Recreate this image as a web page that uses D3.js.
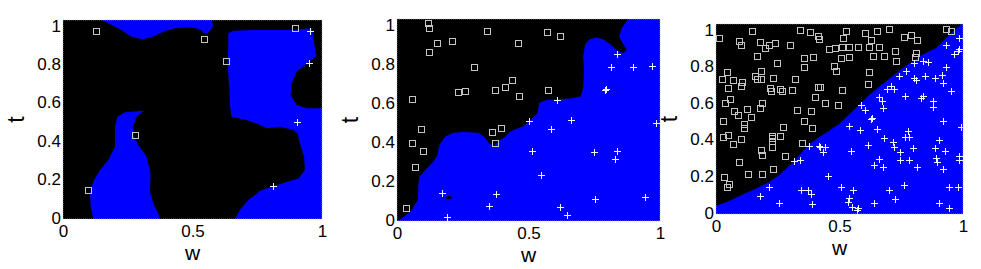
<!DOCTYPE html>
<html>
<head>
<meta charset="utf-8">
<script src="https://cdn.jsdelivr.net/npm/d3@7"></script>
<style>
  body { margin: 0; background: #fff; }
  svg { display: block; }
</style>
</head>
<body>
<script>
const svgWidth = 981
const svgHeight = 269

// tick labels
const wTicks = [0, 0.5, 1]
const tTicks = [0, 0.2, 0.4, 0.6, 0.8, 1]

// panel 1: blue regions on black, [w, t]
const p1BlueRegions = [
  [[0.149,1],[0.181,0.980],[0.220,0.953],[0.265,0.916],[0.304,0.903],[0.342,0.913],[0.387,0.941],
   [0.432,0.958],[0.490,0.963],[0.529,0.953],[0.544,0.933],[0.561,0.936],[0.580,0.970],[0.574,1]],
  [[0.638,0.933],[0.658,0.946],[0.735,0.950],[0.876,0.950],[0.960,0.958],[0.967,0.916],[0.973,0.849],
   [0.979,0.819],[0.941,0.782],[0.902,0.740],[0.883,0.682],[0.879,0.623],[0.902,0.573],[0.941,0.556],
   [1,0.556],[1,0],[0.664,0],[0.683,0.045],[0.716,0.095],[0.761,0.142],[0.825,0.171],[0.909,0.204],
   [0.934,0.246],[0.931,0.313],[0.915,0.380],[0.905,0.431],[0.889,0.447],[0.838,0.464],[0.786,0.456],
   [0.761,0.472],[0.709,0.497],[0.651,0.514],[0.645,0.564],[0.642,0.665],[0.636,0.765],[0.638,0.866]],
  [[0.117,0],[0.107,0.062],[0.104,0.129],[0.117,0.188],[0.143,0.246],[0.175,0.296],[0.201,0.363],
   [0.201,0.464],[0.210,0.514],[0.239,0.536],[0.313,0.544],[0.284,0.514],[0.272,0.472],[0.272,0.422],
   [0.291,0.372],[0.323,0.313],[0.338,0.229],[0.336,0.137],[0.351,0.070],[0.368,0.028],[0.372,0]]
]
const p1Squares = [[0.129,0.946],[0.545,0.905],[0.630,0.794],[0.897,0.962],[0.277,0.423],[0.097,0.147]]
const p1Plus = [[0.955,0.946],[0.948,0.786],[0.903,0.487],[0.810,0.164]]

// panel 2: black regions on blue
const p2BlackRegions = [
  [[0,1],[0.880,1],[0.854,0.954],[0.845,0.913],[0.858,0.880],[0.873,0.850],[0.861,0.830],[0.835,0.847],
   [0.810,0.876],[0.785,0.899],[0.759,0.909],[0.731,0.899],[0.715,0.871],[0.708,0.814],[0.711,0.748],
   [0.708,0.657],[0.698,0.616],[0.658,0.607],[0.569,0.599],[0.541,0.586],[0.534,0.533],[0.506,0.497],
   [0.478,0.467],[0.449,0.454],[0.430,0.442],[0.411,0.417],[0.385,0.393],[0.369,0.373],[0.351,0.384],
   [0.331,0.417],[0.309,0.437],[0.252,0.441],[0.214,0.437],[0.183,0.417],[0.161,0.376],[0.153,0.322],
   [0.132,0.285],[0.110,0.256],[0.085,0.219],[0.081,0.178],[0.079,0.104],[0.056,0.054],[0.024,0.018],[0,0]],
  [[0.183,0.115],[0.190,0.124],[0.205,0.122],[0.208,0.112],[0.190,0.107]]
]
const p2Squares = [[0.117,0.982],[0.123,0.954],[0.151,0.883],[0.122,0.838],[0.210,0.893],[0.343,0.941],
  [0.459,0.880],[0.569,0.937],[0.620,0.916],[0.294,0.764],[0.437,0.700],[0.409,0.663],[0.371,0.650],
  [0.259,0.645],[0.231,0.639],[0.464,0.619],[0.574,0.650],[0.056,0.602],[0.091,0.455],[0.057,0.388],
  [0.100,0.348],[0.360,0.442],[0.394,0.459],[0.373,0.384],[0.068,0.269],[0.034,0.063]]
const p2Plus = [[0.835,0.827],[0.812,0.764],[0.896,0.764],[0.968,0.769],[0.791,0.649],[0.793,0.651],
  [0.610,0.599],[0.501,0.495],[0.663,0.500],[0.584,0.455],[0.985,0.483],[0.512,0.347],[0.750,0.343],
  [0.838,0.348],[0.829,0.305],[0.546,0.228],[0.170,0.140],[0.375,0.134],[0.351,0.074],[0.620,0.071],
  [0.753,0.107],[0.943,0.120],[0.189,0.021],[0.645,0.028]]

// panel 3: straight-ish class boundary, blue below
const p3Boundary = [[0,0.044],[0.051,0.067],[0.119,0.109],[0.159,0.132],[0.213,0.167],[0.254,0.202],
  [0.308,0.267],[0.348,0.325],[0.375,0.365],[0.416,0.404],[0.456,0.435],[0.502,0.477],[0.560,0.550],
  [0.621,0.628],[0.690,0.700],[0.756,0.768],[0.837,0.839],[0.891,0.874],[0.945,0.944],[0.990,0.995],[1,1]]
const p3Squares = [[0.011,0.926],[0.146,0.961],[0.092,0.912],[0.103,0.891],[0.179,0.905],[0.197,0.874],
  [0.213,0.888],[0.238,0.902],[0.298,0.888],[0.339,0.970],[0.379,0.958],[0.413,0.935],[0.416,0.923],
  [0.456,0.868],[0.483,0.874],[0.167,0.830],[0.248,0.795],[0.355,0.821],[0.391,0.825],[0.355,0.772],
  [0.476,0.781],[0.486,0.754],[0.043,0.746],[0.024,0.711],[0.070,0.707],[0.105,0.693],[0.103,0.672],
  [0.157,0.725],[0.167,0.711],[0.184,0.711],[0.184,0.751],[0.231,0.716],[0.318,0.711],[0.049,0.663],
  [0.220,0.663],[0.224,0.649],[0.260,0.658],[0.267,0.649],[0.308,0.654],[0.413,0.667],[0.421,0.667],
  [0.399,0.616],[0.443,0.584],[0.035,0.584],[0.058,0.605],[0.186,0.584],[0.180,0.558],[0.126,0.554],
  [0.072,0.544],[0.089,0.523],[0.328,0.549],[0.383,0.544],[0.494,0.572],[0.143,0.509],
  [0.526,0.965],[0.516,0.926],[0.605,0.953],[0.628,0.918],[0.652,0.961],[0.702,0.975],[0.763,0.930],
  [0.790,0.944],[0.813,0.918],[0.931,0.975],[0.951,0.961],[0.510,0.877],[0.540,0.877],[0.574,0.877],
  [0.621,0.877],[0.659,0.877],[0.726,0.856],[0.810,0.847],[0.506,0.821],[0.540,0.825],[0.634,0.830],
  [0.681,0.830],[0.804,0.825],[0.729,0.804],[0.621,0.746],[0.617,0.684],[0.510,0.654],
  [0.028,0.491],[0.112,0.474],[0.112,0.453],[0.355,0.491],[0.389,0.451],[0.270,0.456],[0.027,0.404],
  [0.049,0.418],[0.103,0.395],[0.067,0.368],[0.227,0.412],[0.227,0.400],[0.227,0.386],[0.258,0.412],
  [0.227,0.354],[0.184,0.337],[0.186,0.312],[0.348,0.372],[0.278,0.307],[0.094,0.272],[0.231,0.237],
  [0.130,0.211],[0.186,0.211],[0.031,0.196],[0.051,0.158],[0.045,0.144]]
const p3Plus = [[0.985,0.926],[0.931,0.891],[0.985,0.870],[0.978,0.856],[0.965,0.842],[0.803,0.795],
  [0.837,0.804],[0.857,0.798],[0.769,0.751],[0.742,0.728],[0.803,0.716],[0.810,0.707],[0.848,0.728],
  [0.888,0.716],[0.915,0.733],[0.918,0.689],[0.931,0.772],[0.951,0.646],[0.691,0.660],[0.709,0.672],
  [0.722,0.660],[0.767,0.619],[0.830,0.611],[0.840,0.619],[0.661,0.614],[0.672,0.596],[0.675,0.558],
  [0.880,0.593],[0.880,0.561],[0.587,0.575],[0.605,0.549],
  [0.628,0.500],[0.630,0.503],[0.537,0.465],[0.584,0.444],[0.652,0.447],[0.776,0.435],[0.766,0.407],
  [0.780,0.407],[0.918,0.488],[0.992,0.456],[0.679,0.398],[0.715,0.377],[0.719,0.351],[0.617,0.363],
  [0.547,0.333],[0.746,0.325],[0.796,0.346],[0.901,0.391],[0.888,0.346],[0.929,0.330],[0.661,0.289],
  [0.641,0.260],[0.675,0.249],[0.746,0.284],[0.783,0.284],[0.891,0.293],[0.893,0.272],[0.983,0.307],
  [0.983,0.284],[0.812,0.246],[0.918,0.237],[0.506,0.144],[0.556,0.126],[0.702,0.126],[0.762,0.153],
  [0.945,0.144],[0.979,0.140],[0.537,0.082],[0.533,0.061],[0.726,0.079],[0.641,0.056],[0.551,0.035],
  [0.574,0.030],[0.570,0.023],[0.904,0.056],[0.942,0.030],
  [0.375,0.360],[0.416,0.360],[0.422,0.351],[0.443,0.354],[0.432,0.325],[0.314,0.277],[0.341,0.284],
  [0.452,0.202],[0.216,0.144],[0.179,0.096],[0.345,0.126],[0.372,0.126],[0.386,0.105],[0.254,0.056],
  [0.389,0.053]]

const blue = "#0000ff"
const black = "#000000"

const panels = [
  {left: 63, right: 322, top: 20, bottom: 219, base: black, fill: blue,
   regions: p1BlueRegions, squares: p1Squares, plus: p1Plus},
  {left: 397, right: 660, top: 19, bottom: 221, base: blue, fill: black,
   regions: p2BlackRegions, squares: p2Squares, plus: p2Plus},
  {left: 716, right: 963, top: 24, bottom: 214, base: black, fill: blue,
   regions: [p3Boundary.concat([[1, 0], [0, 0]])], squares: p3Squares, plus: p3Plus}
]

const svg = d3.select("body").append("svg")
  .attr("width", svgWidth)
  .attr("height", svgHeight)
  .style("font-family", "'Liberation Sans', Arial, sans-serif")

panels.forEach((p, i) => {
  const w = p.right - p.left
  const h = p.bottom - p.top

  const x = d3.scaleLinear().domain([0, 1]).range([0, w])
  const y = d3.scaleLinear().domain([0, 1]).range([h, 0])

  const g = svg.append("g")
    .attr("transform", `translate(${p.left}, ${p.top})`)

  g.append("clipPath")
    .attr("id", `clip${i}`)
    .append("rect")
    .attr("width", w)
    .attr("height", h)

  const plot = g.append("g").attr("clip-path", `url(#clip${i})`)

  plot.append("rect")
    .attr("width", w)
    .attr("height", h)
    .attr("fill", p.base)

  const area = d3.line().x(d => x(d[0])).y(d => y(d[1]))

  plot.selectAll("path.region")
    .data(p.regions)
    .enter()
    .append("path")
    .attr("class", "region")
    .attr("d", d => area(d) + "Z")
    .attr("fill", p.fill)

  // faint dotted frame
  g.append("rect")
    .attr("width", w)
    .attr("height", h)
    .attr("fill", "none")
    .attr("stroke", "#b8b8c8")
    .attr("stroke-width", 0.6)
    .attr("stroke-dasharray", "1,1")

  const s = 3
  plot.selectAll("rect.sq")
    .data(p.squares)
    .enter()
    .append("rect")
    .attr("class", "sq")
    .attr("x", d => Math.round(x(d[0])) - s + 0.5)
    .attr("y", d => Math.round(y(d[1])) - s + 0.5)
    .attr("width", 2 * s)
    .attr("height", 2 * s)
    .attr("fill", "none")
    .attr("stroke", "#c4c4c4")
    .attr("stroke-width", 1)

  const c = 3.5
  plot.selectAll("path.plus")
    .data(p.plus)
    .enter()
    .append("path")
    .attr("class", "plus")
    .attr("d", d => {
      const cx = Math.round(x(d[0])) + 0.5
      const cy = Math.round(y(d[1])) + 0.5
      return `M${cx - c},${cy}H${cx + c}M${cx},${cy - c}V${cy + c}`
    })
    .attr("stroke", "#f2f2f2")
    .attr("stroke-width", 1)

  // axes
  const xAxis = d3.axisBottom(x)
    .tickValues(wTicks)
    .tickSize(0)
    .tickPadding(6)
    .tickFormat(d => String(d))

  const yAxis = d3.axisLeft(y)
    .tickValues(tTicks)
    .tickSize(0)
    .tickPadding(2)
    .tickFormat(d => String(d))

  const gx = g.append("g")
    .attr("transform", `translate(0, ${h})`)
    .call(xAxis)
  gx.select(".domain").remove()
  gx.selectAll("text")
    .attr("font-size", 17)
    .attr("font-family", "'Liberation Sans', Arial, sans-serif")
    .attr("fill", "#000")

  const gy = g.append("g").call(yAxis)
  gy.select(".domain").remove()
  gy.selectAll("text")
    .attr("font-size", 17)
    .attr("font-family", "'Liberation Sans', Arial, sans-serif")
    .attr("fill", "#000")
    .attr("dy", d => 4 + 7 * d)

  g.append("text")
    .attr("x", w / 2)
    .attr("y", h + 41)
    .attr("text-anchor", "middle")
    .attr("font-size", 21)
    .text("w")

  g.append("text")
    .attr("transform", `translate(-39, ${h / 2}) rotate(-90)`)
    .attr("text-anchor", "middle")
    .attr("font-size", 23)
    .text("t")
})
</script>
</body>
</html>
